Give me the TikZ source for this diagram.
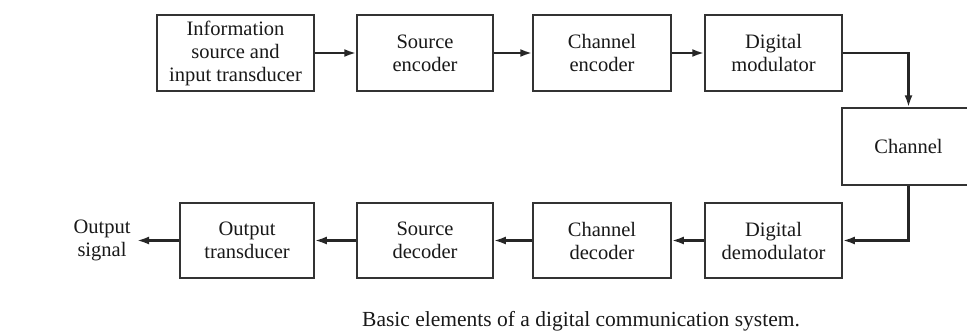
\documentclass[tikz,border=0pt]{standalone}
\usepackage{fontspec}
\setmainfont{Liberation Serif}
\usetikzlibrary{arrows.meta}
\begin{document}
\begin{tikzpicture}[x=1pt,y=-1pt,
  blk/.style={draw=black!80, line width=1.5pt, minimum height=76pt, align=center,
    inner sep=0pt, font=\fontsize{20.5}{23}\selectfont, text=black!90},
  lbl/.style={align=center, inner sep=0pt, font=\fontsize{20.5}{23}\selectfont, text=black!90},
  flow/.style={draw=black!85, line width=2.3pt, -{Latex[length=12pt,width=8pt]}}]
\useasboundingbox[fill=white] (0,0) rectangle (967,332);
% transmitter chain
\node[blk, minimum width=157pt] (src) at (235.5,53) {Information\\source and\\input transducer};
\node[blk, minimum width=136pt] (senc) at (425,53) {Source\\encoder};
\node[blk, minimum width=138pt] (cenc) at (602,53) {Channel\\encoder};
\node[blk, minimum width=137pt] (mod) at (773.5,53) {Digital\\modulator};
% channel
\node[blk, minimum width=133pt, minimum height=77pt] (chan) at (908.5,146.5) {Channel};
% receiver chain
\node[blk, minimum width=137pt, minimum height=75pt] (demod) at (773.5,240.5) {Digital\\demodulator};
\node[blk, minimum width=138pt, minimum height=75pt] (cdec) at (602,240.5) {Channel\\decoder};
\node[blk, minimum width=136pt, minimum height=75pt] (sdec) at (425,240.5) {Source\\decoder};
\node[blk, minimum width=134pt, minimum height=75pt] (out) at (247,240.5) {Output\\transducer};
\node[lbl] (sig) at (102,240) {Output\\signal};
\coordinate (sigin) at (137,240.5);
% connectors
\draw[flow] (src) -- (senc);
\draw[flow] (senc) -- (cenc);
\draw[flow] (cenc) -- (mod);
\draw[flow] (mod.east) -| (chan.north);
\draw[flow] (chan.south) |- (demod.east);
\draw[flow] (demod) -- (cdec);
\draw[flow] (cdec) -- (sdec);
\draw[flow] (sdec) -- (out);
\draw[flow] (out) -- (sigin);
% caption
\node[lbl, font=\fontsize{21.5}{24}\selectfont] (cap) at (581,321) {Basic elements of a digital communication system.};
\end{tikzpicture}
\end{document}
